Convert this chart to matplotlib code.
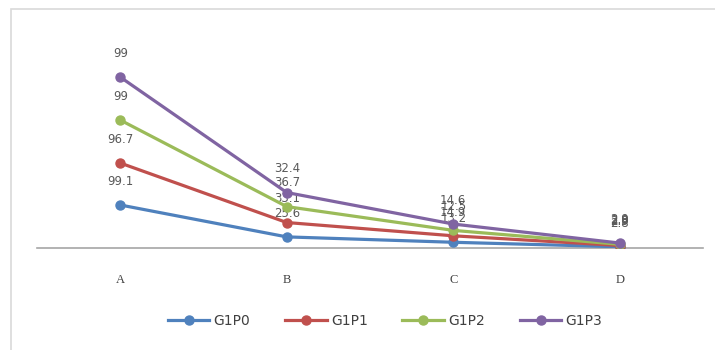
import matplotlib
matplotlib.use("Agg")
import matplotlib.pyplot as plt
from matplotlib.patches import Rectangle
import numpy as np

categories = ["A", "B", "C", "D"]
series_names = ["G1P0", "G1P1", "G1P2", "G1P3"]
g1p0 = [99.1, 25.6, 13.2, 2.8]
g1p1 = [96.7, 33.1, 14.9, 2.9]
g1p2 = [99.0, 36.7, 12.5, 2.8]
g1p3 = [99.0, 32.4, 14.6, 2.9]
colors = ["#4F81BD", "#C0504D", "#9BBB59", "#8064A2"]

series = [g1p0, g1p1, g1p2, g1p3]
stacked = np.cumsum(np.array(series), axis=0)

fig = plt.figure(figsize=(7.15, 3.5), dpi=100)
fig.patches.append(Rectangle((11/715, -0.05), 1.2, 1 - 9/350 + 0.05,
                             transform=fig.transFigure, fill=False,
                             edgecolor="#D9D9D9", lw=1.2))
ax = fig.add_axes([37/715, 1 - 248/350, (703 - 37)/715, (248 - 31)/350])

x = np.arange(len(categories))
handles = []
for i, (name, vals) in enumerate(zip(series_names, series)):
    h, = ax.plot(x, stacked[i], color=colors[i], lw=2.3, marker="o",
                 markersize=6.5, label=name, zorder=3)
    handles.append(h)
    for xi, yi, v in zip(x, stacked[i], vals):
        ax.annotate(f"{v:g}", (xi, yi), xytext=(0, 17), textcoords="offset points",
                    ha="center", va="center", fontsize=8.5, color="#595959",
                    family="DejaVu Sans")

ax.set_xlim(-0.5, 3.5)
ax.set_ylim(0, 500)
ax.set_xticks(x)
ax.set_xticklabels(categories, family="Liberation Serif", fontsize=9, color="#404040")
ax.tick_params(axis="x", length=0, pad=19)
ax.set_yticks([])
for s in ["left", "right", "top"]:
    ax.spines[s].set_visible(False)
ax.spines["bottom"].set_color("#A6A6A6")
ax.spines["bottom"].set_linewidth(1.2)

fig.legend(handles=handles, loc="center", bbox_to_anchor=(385/715, 1 - 321/350),
           ncol=4, frameon=False, fontsize=10, handlelength=3.0, columnspacing=2.5,
           handletextpad=0.3, labelcolor="#404040")

fig.savefig("out.png", dpi=100)
